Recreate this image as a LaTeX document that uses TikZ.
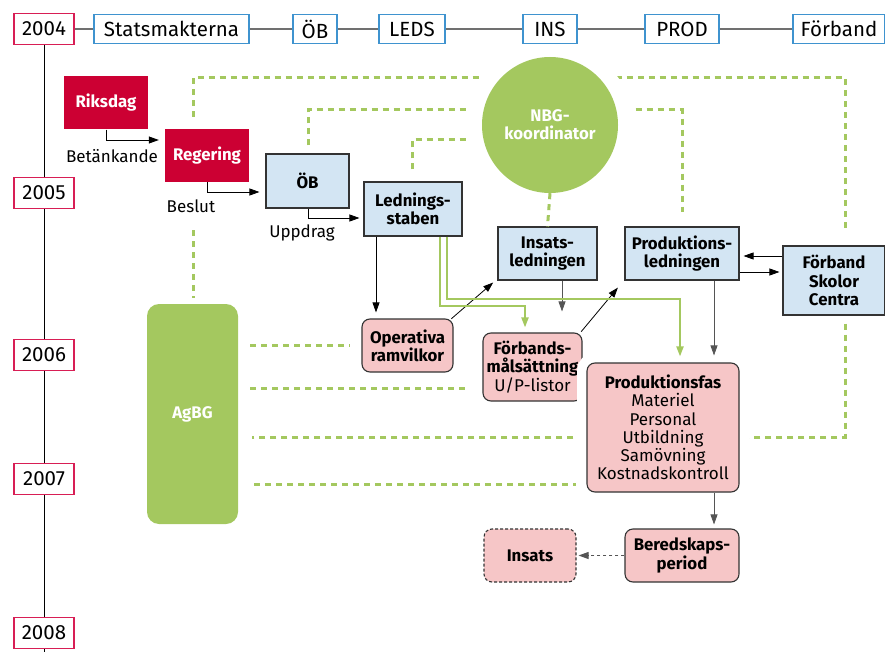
\documentclass[tikz,border=0pt]{standalone}
\usepackage{fontspec}
\setmainfont{Fira Sans}
\usetikzlibrary{arrows.meta}
\pgfdeclarelayer{background}
\pgfsetlayers{background,main}
\definecolor{crim}{HTML}{CC0033}
\definecolor{yearred}{HTML}{D81E55}
\definecolor{topblue}{HTML}{3F93CF}
\definecolor{lblue}{HTML}{D3E5F3}
\definecolor{pinkf}{HTML}{F6C6C7}
\definecolor{grn}{HTML}{A4C85F}
\definecolor{bord}{HTML}{333333}
\definecolor{lgray}{HTML}{555555}
\definecolor{tgray}{HTML}{707070}
\tikzset{
  big/.style={font=\fontsize{20.5}{23}\selectfont},
  med/.style={font=\fontsize{17}{18.3}\selectfont},
  medb/.style={font=\fontsize{16.8}{18.3}\selectfont\bfseries},
  yearbox/.style={big, draw=yearred, fill=white, line width=1.1pt, minimum width=60, minimum height=31, inner sep=0pt},
  topbox/.style={big, draw=topblue, fill=white, line width=1.1pt, minimum height=29, inner sep=0pt},
  redbox/.style={medb, fill=crim, text=white, minimum width=84, minimum height=53, inner sep=0pt},
  bluebox/.style={medb, fill=lblue, draw=bord, line width=1.1pt, align=center, inner sep=0pt},
  pinkbox/.style={medb, fill=pinkf, draw=bord, line width=1.1pt, align=center, rounded corners=8pt, inner sep=0pt},
  lbl/.style={med, inner sep=0pt},
  arr/.style={line width=0.8pt, -{Triangle[length=10pt,width=7pt]}},
  garr/.style={draw=grn, line width=2pt, -{Triangle[length=10pt,width=7pt]}},
  gdash/.style={draw=grn, line width=3pt, dash pattern=on 6pt off 5pt},
}
\begin{document}
\begin{tikzpicture}[x=1pt, y=-1pt]
\useasboundingbox (0,0) rectangle (885,652);

% NBG circle with white halo
\node[circle, fill=grn, minimum size=136, inner sep=0pt, text=white, align=center,
      font=\fontsize{16.8}{18.3}\selectfont\bfseries,
      preaction={draw=white, line width=30pt}] (nbg) at (550,125) {NBG-\\koordinator};

% top row
\node[yearbox] (y2004) at (44,29) {2004};
\node[topbox, minimum width=155] (stat) at (171.5,29) {Statsmakterna};
\node[topbox, minimum width=44] (tob) at (315,29) {ÖB};
\node[topbox, minimum width=66] (leds) at (412,29) {LEDS};
\node[topbox, minimum width=54] (ins) at (550,29) {INS};
\node[topbox, minimum width=74] (prod) at (682,29) {PROD};
\node[topbox, minimum width=92] (tforb) at (839,29) {Förband};
\begin{scope}[draw=tgray, line width=1.1pt]
\draw (y2004) -- (stat);
\draw (stat) -- (tob);
\draw (tob) -- (leds);
\draw (leds) -- (ins);
\draw (ins) -- (prod);
\draw (prod) -- (tforb);
\end{scope}

% timeline
\node[yearbox] (y2005) at (44,193) {2005};
\node[yearbox] (y2006) at (44,355) {2006};
\node[yearbox] (y2007) at (44,479) {2007};
\node[yearbox] (y2008) at (44,633) {2008};
\coordinate (tend) at (44,652);
\begin{scope}[line width=0.9pt]
\draw (y2004) -- (y2005);
\draw (y2005) -- (y2006);
\draw (y2006) -- (y2007);
\draw (y2007) -- (y2008);
\draw (y2008) -- (tend);
\end{scope}

% main nodes
\node[redbox] (riks) at (106,103) {Riksdag};
\node[redbox] (reg) at (207,155.5) {Regering};
\node[bluebox, minimum width=83, minimum height=54] (oeb) at (307.5,181) {ÖB};
\node[bluebox, minimum width=98, minimum height=54] (led) at (413,209) {Lednings-\\staben};
\node[bluebox, minimum width=99, minimum height=53] (insl) at (547.5,253.5) {Insats-\\ledningen};
\node[bluebox, minimum width=114, minimum height=53] (prodl) at (682,253.5) {Produktions-\\ledningen};
\node[bluebox, minimum width=102, minimum height=69] (forb) at (834,280.5) {Förband\\Skolor\\Centra};
\node[fill=grn, rounded corners=12pt, minimum width=91, minimum height=220, inner sep=0pt,
      text=white, font=\fontsize{16.8}{18.3}\selectfont\bfseries] (agbg) at (192.5,414) {AgBG};
\node[pinkbox, minimum width=91, minimum height=53] (ope) at (407.5,345.5) {Operativa\\ramvilkor};
\node[pinkbox, minimum width=99, minimum height=68] (fm) at (532.5,367) {Förbands-\\målsättning\\\fontsize{17}{18.3}\selectfont\mdseries U/P-listor};
\node[pinkbox, minimum width=152, minimum height=129, preaction={draw=white, line width=20pt}] (pfas) at (663,427.5)
  {Produktionsfas\\\fontsize{17}{18.3}\selectfont\mdseries Materiel\\\fontsize{17}{18.3}\selectfont\mdseries Personal\\\fontsize{17}{18.3}\selectfont\mdseries Utbildning\\\fontsize{17}{18.3}\selectfont\mdseries Samövning\\\fontsize{17}{18.3}\selectfont\mdseries Kostnadskontroll};
\node[pinkbox, minimum width=114, minimum height=53] (bered) at (682,555.5) {Beredskaps-\\period};
\node[pinkbox, dash pattern=on 3pt off 2pt, minimum width=92, minimum height=53] (insats) at (530,555.5) {Insats};

% labels
\node[lbl] (lbet) at (112,156) {Betänkande};
\node[lbl] (lbes) at (191,206) {Beslut};
\node[lbl] (lupp) at (302,233) {Uppdrag};

% black arrows
\draw[arr, shorten >=6pt] (riks.south) |- ([yshift=15.5pt]reg.west);
\draw[arr, shorten >=6pt] (reg.south) |- ([yshift=-11pt]oeb.west);
\draw[arr, shorten >=4pt] ([xshift=0.5pt]oeb.south) |- ([yshift=-9pt]led.west);
\draw[arr, shorten >=6pt] ([xshift=-37pt]led.south) -- ([xshift=-37pt]led.south |- ope.north);
\draw[arr, shorten <=1pt, shorten >=3pt] ([xshift=-3pt,yshift=-1pt]ope.north east) -- ([xshift=-2pt]insl.south west);
\draw[arr, shorten <=1pt, shorten >=4pt] ([xshift=-2pt]fm.north east) -- ([xshift=-4pt,yshift=-4pt]prodl.south west);
\draw[arr, draw=lgray, shorten >=21pt] ([xshift=14.5pt]insl.south) -- ([xshift=14.5pt]insl.south |- fm.north);
\draw[arr, draw=lgray, shorten >=7pt] ([xshift=32pt]prodl.south) -- ([xshift=32pt]prodl.south |- pfas.north);
\draw[arr, draw=lgray, shorten >=4pt] ([xshift=32pt]bered.north |- pfas.south) -- ([xshift=32pt]bered.north);
\draw[arr, shorten >=4pt] ([yshift=24.5pt]forb.west) -- ([yshift=24.5pt]forb.west -| prodl.east);
\draw[arr, shorten >=3pt] ([yshift=8.5pt]forb.west -| prodl.east) -- ([yshift=8.5pt]forb.west);
\draw[arr, draw=lgray, dashed, shorten >=2pt] (bered.west) -- (insats.east);

% green solid arrows
\draw[garr, shorten >=5pt] ([xshift=27pt]led.south) -- ++(0,69) -| ([xshift=-7.5pt]fm.north);
\draw[garr, shorten >=6pt] ([xshift=34pt]led.south) -- ++(0,62) -| ([xshift=17pt]pfas.north);

% NBG to Insatsledningen
\draw[gdash] (nbg.south) -- (insl.north);

% dashed green links in background
\begin{pgfonlayer}{background}
\draw[gdash, shorten <=12pt, shorten >=14pt] ([xshift=-14pt]reg.north) |- ([yshift=47.5pt]nbg.center) -| ([xshift=11pt]forb.north);
\draw[gdash, shorten <=8pt, shorten >=14pt] ([xshift=0.5pt]oeb.north) |- ([yshift=15pt]nbg.center) -| (prodl.north);
\draw[gdash, shorten <=12pt] ([xshift=-1pt]led.north) |- ([yshift=-15pt]nbg.center);
\draw[gdash, shorten <=48pt, shorten >=6pt] ([xshift=-14pt]reg.south) -- ([xshift=-14pt]reg.south |- agbg.north);
\draw[gdash, shorten <=8pt, shorten >=14pt] ([xshift=11pt]forb.south) |- ([yshift=-23pt]agbg.east);
\draw[gdash, shorten <=12pt, shorten >=12pt] (agbg.east |- ope.west) -- (ope.west);
\draw[gdash, shorten <=12pt, shorten >=15pt] ([yshift=-21pt]fm.west -| agbg.east) -- ([yshift=-21pt]fm.west);
\draw[gdash, shorten <=16pt, shorten >=10pt] ([yshift=-56.5pt]pfas.west -| agbg.east) -- ([yshift=-56.5pt]pfas.west);
\end{pgfonlayer}
\end{tikzpicture}
\end{document}
